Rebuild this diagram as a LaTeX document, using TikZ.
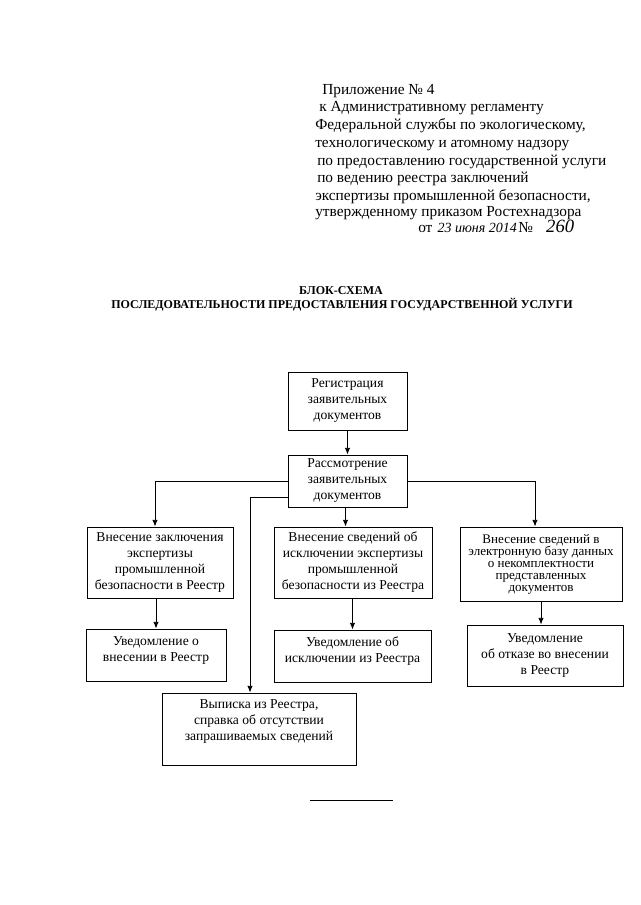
\documentclass[tikz,border=0pt]{standalone}
\usepackage{fontspec}
\setmainfont{Liberation Serif}
\usetikzlibrary{arrows.meta}
\tikzset{
  blok/.style={draw, line width=0.7pt, align=center, inner sep=1pt,
    font=\fontsize{10.2}{12}\selectfont},
  strelka/.style={-{Latex[length=5pt,width=4pt]}, line width=0.6pt},
  liniya/.style={line width=0.6pt},
  shapka/.style={anchor=base west, inner sep=0pt, font=\fontsize{11.5}{13}\selectfont}
}
\begin{document}
\begin{tikzpicture}[x=0.75pt,y=-0.75pt]
\useasboundingbox (0,0) rectangle (640,905);
% header
\node[shapka] (h1) at (322,95) {Приложение № 4};
\node[shapka] (h2) at (319,112) {к Административному регламенту};
\node[shapka] (h3) at (315,130) {Федеральной службы по экологическому,};
\node[shapka] (h4) at (315,148) {технологическому и атомному надзору};
\node[shapka] (h5) at (317,166) {по предоставлению государственной услуги};
\node[shapka] (h6) at (317,183) {по ведению реестра заключений};
\node[shapka] (h7) at (315,201) {экспертизы промышленной безопасности,};
\node[shapka] (h8) at (315,217) {утвержденному приказом Ростехнадзора};
\node[shapka] (h9) at (418,233) {от \hspace{1pt}{\itshape\fontsize{10.5}{12}\selectfont 23 июня 2014}\hspace{1pt}№\hspace{10pt}{\itshape\fontsize{14}{14}\selectfont 260}};
% title
\node[font=\bfseries\fontsize{9}{11}\selectfont, inner sep=0pt, anchor=base] (t1) at (341,294) {БЛОК-СХЕМА};
\node[font=\bfseries\fontsize{9}{11}\selectfont, inner sep=0pt, anchor=base] (t2) at (342,308) {ПОСЛЕДОВАТЕЛЬНОСТИ ПРЕДОСТАВЛЕНИЯ ГОСУДАРСТВЕННОЙ УСЛУГИ};
% boxes
\node[blok, minimum width=119*0.75pt, minimum height=58*0.75pt] (reg) at (347.5,401) {Регистрация\\заявительных\\документов};
\node[blok, minimum width=119*0.75pt, minimum height=52*0.75pt] (ras) at (347.5,481) {Рассмотрение\\заявительных\\документов};
\node[blok, minimum width=146*0.75pt, minimum height=71*0.75pt] (vnz) at (160,562.5) {Внесение заключения\\экспертизы\\промышленной\\безопасности в Реестр};
\node[blok, minimum width=158*0.75pt, minimum height=71*0.75pt] (vis) at (353,562.5) {Внесение сведений об\\исключении экспертизы\\промышленной\\безопасности из Реестра};
\node[blok, minimum width=162*0.75pt, minimum height=74*0.75pt, font=\fontsize{9.8}{9}\selectfont] (vbd) at (541,564) {Внесение сведений в\\электронную базу данных\\о некомплектности\\представленных\\документов};
\node[blok, minimum width=140*0.75pt, minimum height=52*0.75pt, text depth=9pt] (uvv) at (156,655) {Уведомление о\\внесении в Реестр};
\node[blok, minimum width=157*0.75pt, minimum height=52*0.75pt, text depth=9pt] (uvi) at (352.5,656) {Уведомление об\\исключении из Реестра};
\node[blok, minimum width=156*0.75pt, minimum height=61*0.75pt] (uvo) at (545,655.5) {Уведомление\\об отказе во внесении\\в Реестр};
\node[blok, minimum width=194*0.75pt, minimum height=72*0.75pt, text depth=14pt] (vyp) at (259,729) {Выписка из Реестра,\\справка об отсутствии\\запрашиваемых сведений};
% connectors
\draw[strelka] (reg) -- (ras);
\draw[strelka] (ras.west) -| ([xshift=-5*0.75pt]vnz.north);
\draw[strelka] ([yshift=-16*0.75pt]ras.west) -| ([xshift=-9*0.75pt]vyp.north);
\draw[strelka] (ras.east) -| ([xshift=-6*0.75pt]vbd.north);
\draw[strelka] ([xshift=-2*0.75pt]ras.south) -- ([xshift=-2*0.75pt]ras.south |- vis.north);
\draw[strelka] (uvv.north |- vnz.south) -- (uvv.north);
\draw[strelka] (uvi.north |- vis.south) -- (uvi.north);
\draw[strelka] (vbd.south) -- (vbd.south |- uvo.north);
% short line at the bottom
\draw[liniya] (310,800) -- (393,800);
\end{tikzpicture}
\end{document}
